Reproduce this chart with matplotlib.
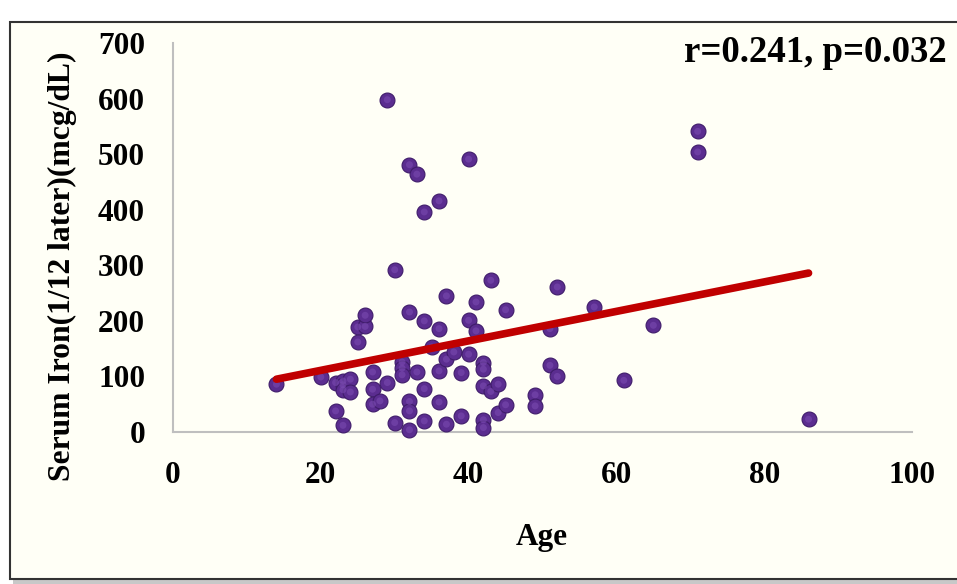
import matplotlib
matplotlib.use("Agg")
import matplotlib.pyplot as plt
from matplotlib.patches import Rectangle

age = [14, 20, 22, 22, 23, 23, 23, 23, 24, 24, 25, 25, 26, 26, 27, 27, 27, 28, 29, 29,
       30, 30, 31, 31, 31, 32, 32, 32, 32, 32, 33, 33, 34, 34, 34, 34, 35, 36, 36, 36,
       36, 37, 37, 37, 38, 39, 39, 40, 40, 40, 41, 41, 42, 42, 42, 42, 42, 43, 43, 44,
       44, 45, 45, 49, 49, 51, 51, 52, 52, 57, 61, 65, 71, 71, 86]
iron = [86, 99, 89, 38, 92, 85, 76, 12, 95, 72, 189, 162, 190, 210, 108, 77, 50, 56, 89, 598,
        292, 17, 126, 115, 103, 481, 216, 55, 38, 4, 464, 108, 396, 200, 78, 20, 153, 416, 186, 110,
        54, 245, 131, 14, 144, 107, 29, 491, 201, 140, 234, 182, 125, 113, 83, 22, 8, 273, 73, 86,
        35, 220, 49, 67, 47, 186, 120, 261, 100, 225, 93, 192, 541, 504, 23]
trend_x = [14, 86]
trend_y = [95, 286]
x_ticks = [0, 20, 40, 60, 80, 100]
y_ticks = [0, 100, 200, 300, 400, 500, 600, 700]
annotation = "r=0.241, p=0.032"

plt.rcParams['font.family'] = ['Liberation Serif', 'DejaVu Serif']
plt.rcParams['font.weight'] = 'bold'

W, H = 957, 584
fig = plt.figure(figsize=(W / 100, H / 100), dpi=100, facecolor='white')

# framed panel with shadow
fig.patches.append(Rectangle((13 / W, 0), 1, 1 - 25 / H, transform=fig.transFigure,
                             facecolor='#c8c8c8', edgecolor='none', zorder=-2))
fig.patches.append(Rectangle((10 / W, 5 / H), 1, 1 - 27 / H, transform=fig.transFigure,
                             facecolor='#fffff6', edgecolor='#333333', linewidth=1.5, zorder=-1))

ax = fig.add_axes([173 / W, 1 - 432 / H, (912 - 173) / W, (432 - 43) / H])
ax.set_zorder(2)
ax.set_facecolor('none')
ax.set_xlim(0, 100)
ax.set_ylim(0, 700)
ax.set_xticks(x_ticks)
ax.set_yticks(y_ticks)
ax.tick_params(length=0, labelsize=22.5)
ax.tick_params(axis='y', pad=20)
ax.tick_params(axis='x', pad=21)
for lab in ax.get_xticklabels() + ax.get_yticklabels():
    lab.set_fontweight('bold')
for s in ['top', 'right']:
    ax.spines[s].set_visible(False)
for s in ['left', 'bottom']:
    ax.spines[s].set_color('#bfbfbf')
    ax.spines[s].set_linewidth(1.5)

ax.scatter(age, iron, s=115, color='#5b2d90', edgecolors='#3f1c6a', linewidths=0.8,
           zorder=3, clip_on=False)
ax.scatter(age, iron, s=25, color='#7a4bb0', edgecolors='none', zorder=3.5, clip_on=False,
           alpha=0.6)
ax.plot(trend_x, trend_y, color='#c00000', linewidth=5.5, solid_capstyle='round', zorder=4)

ax.set_xlabel('Age', fontsize=22.5, fontweight='bold')
ax.xaxis.set_label_coords(542 / W, 1 - 537 / H, transform=fig.transFigure)
ax.xaxis.label.set_verticalalignment('center')
ax.set_ylabel('Serum Iron(1/12 later)(mcg/dL)', fontsize=22.8, fontweight='bold')
ax.yaxis.set_label_coords(62 / W, 1 - 266 / H, transform=fig.transFigure)
ax.yaxis.label.set_verticalalignment('center')

fig.text(947 / W, 1 - 53 / H, annotation, ha='right', va='center', fontsize=26.5,
         fontweight='bold')

fig.savefig('out.png', dpi=100, facecolor=fig.get_facecolor())
